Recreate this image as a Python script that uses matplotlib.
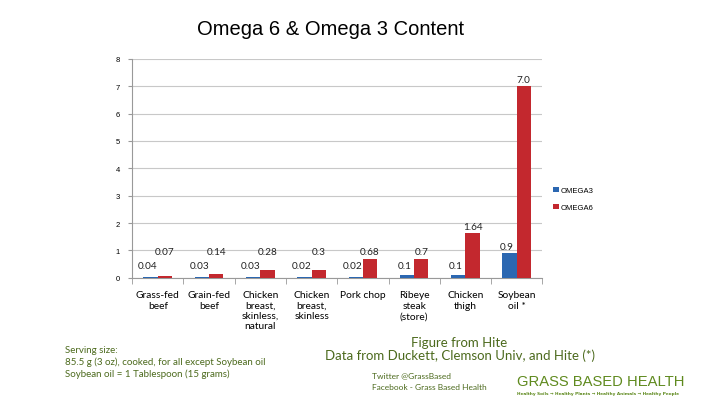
import numpy as np
import matplotlib.pyplot as plt

categories = [
    "Grass-fed\nbeef",
    "Grain-fed\nbeef",
    "Chicken\nbreast,\nskinless,\nnatural",
    "Chicken\nbreast,\nskinless",
    "Pork chop",
    "Ribeye\nsteak\n(store)",
    "Chicken\nthigh",
    "Soybean\noil *",
]
omega3 = [0.04, 0.03, 0.03, 0.02, 0.02, 0.1, 0.1, 0.9]
omega6 = [0.07, 0.14, 0.28, 0.3, 0.68, 0.7, 1.64, 7.0]
omega3_labels = ["0.04", "0.03", "0.03", "0.02", "0.02", "0.1", "0.1", "0.9"]
omega6_labels = ["0.07", "0.14", "0.28", "0.3", "0.68", "0.7", "1.64", "7.0"]
yticks = [0, 1, 2, 3, 4, 5, 6, 7, 8]

BLUE = "#2b67b1"
RED = "#c3282e"
GREEN = "#4c6a1d"
LOGO = "#5f8a1e"

fig = plt.figure(figsize=(7.26, 4.10), dpi=100)
ax = fig.add_axes([0.182, 0.320, 0.565, 0.534])

x = np.arange(len(categories))
width = 0.28
ax.bar(x - width / 2, omega3, width, color=BLUE, label="OMEGA3", zorder=3)
ax.bar(x + width / 2, omega6, width, color=RED, label="OMEGA6", zorder=3)

# labels for the small bars were lifted in the original so they don't collide
for xi, v, s in zip(x, omega3, omega3_labels):
    ax.text(xi - width / 2 - 0.05, max(v, 0.2) + 0.08, s, ha="center", va="bottom",
            fontsize=7.2, family="Lato", color="#222222")
for xi, v, s in zip(x, omega6, omega6_labels):
    ax.text(xi + width / 2, max(v, 0.7) + 0.08, s, ha="center", va="bottom",
            fontsize=7.2, family="Lato", color="#222222")

ax.set_xlim(-0.5, len(categories) - 0.5)
ax.set_ylim(0, 8)
ax.set_yticks(yticks)
ax.set_yticklabels([str(t) for t in yticks], fontsize=5.5, family="Liberation Sans")
ax.set_xticks(np.arange(len(categories) + 1) - 0.5, minor=True)
ax.set_xticks(x)
ax.set_xticklabels(categories, fontsize=7.4, family="Lato", linespacing=1.2, va="top")
ax.tick_params(axis="x", which="major", length=0, pad=9)
ax.tick_params(axis="x", which="minor", length=4, color="#999999")
ax.tick_params(axis="y", length=3, color="#999999", pad=6)
ax.grid(axis="y", color="#c8c8c8", linewidth=0.8, zorder=0)
for side in ["top", "right"]:
    ax.spines[side].set_visible(False)
for side in ["left", "bottom"]:
    ax.spines[side].set_color("#999999")

ax.legend(loc="center left", bbox_to_anchor=(1.01, 0.36), frameon=False,
          handlelength=0.7, handleheight=0.7, handletextpad=0.3,
          labelspacing=1.3, prop={"family": "Liberation Sans", "size": 5.5})

fig.text(0.455, 0.928, "Omega 6 & Omega 3 Content", ha="center", va="center",
         fontsize=14.5, family="Liberation Sans")

fig.text(0.089, 0.116, "Serving size:\n85.5 g (3 oz), cooked, for all except Soybean oil\n"
         "Soybean oil = 1 Tablespoon (15 grams)", ha="left", va="center",
         fontsize=7, family="Lato", color=GREEN, linespacing=1.3)
fig.text(0.633, 0.148, "Figure from Hite\nData from Duckett, Clemson Univ, and Hite (*)",
         ha="center", va="center", fontsize=9.5, family="Lato", color=GREEN,
         linespacing=1.1)
fig.text(0.512, 0.069, "Twitter @GrassBased\nFacebook - Grass Based Health",
         ha="left", va="center", fontsize=6, family="Lato", color=GREEN,
         linespacing=1.8)
fig.text(0.712, 0.068, "GRASS BASED HEALTH", ha="left", va="center",
         fontsize=10.6, family="Liberation Sans", color=LOGO)
fig.text(0.712, 0.040, "Healthy Soils \u2192 Healthy Plants \u2192 Healthy Animals \u2192 Healthy People",
         ha="left", va="center", fontsize=3.1, family="DejaVu Sans", color=LOGO,
         weight="bold")

fig.savefig("out.png", dpi=100)
